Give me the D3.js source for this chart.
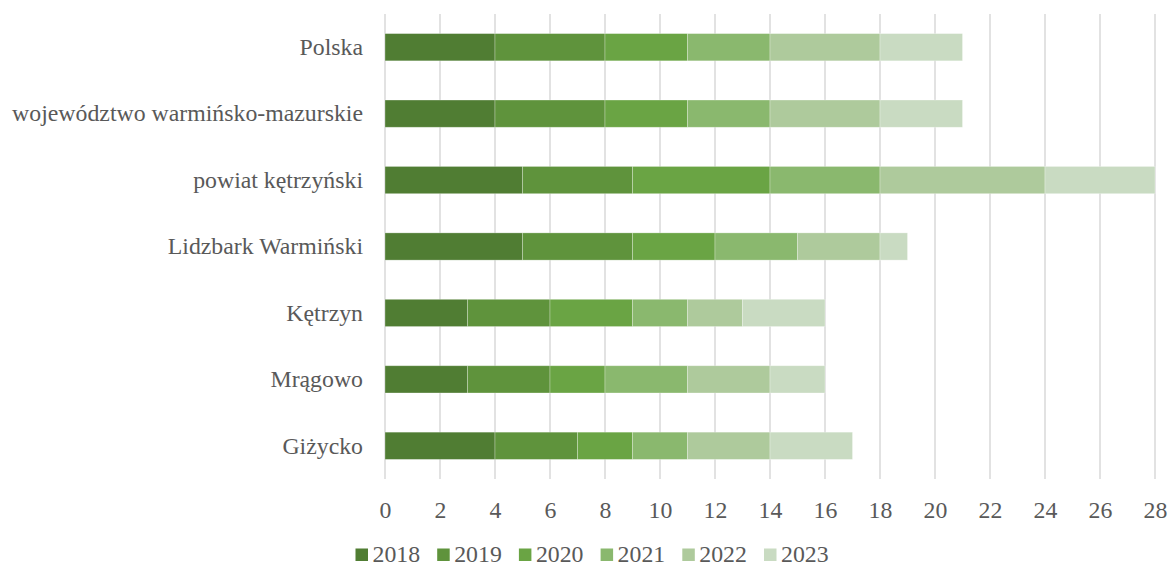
<!DOCTYPE html>
<html>
<head>
<meta charset="utf-8">
<script src="https://cdn.jsdelivr.net/npm/d3@7"></script>
<style>
  body { margin: 0; background: #fff; }
</style>
</head>
<body>
<div id="chart"></div>
<script>
// Categories top to bottom
const categories = ["Polska", "województwo warmińsko-mazurskie", "powiat kętrzyński",
    "Lidzbark Warmiński", "Kętrzyn ", "Mrągowo", "Giżycko"];
const years = ["2018", "2019", "2020", "2021", "2022", "2023"];

// values per year, in category order
const v2018 = [4, 4, 5, 5, 3, 3, 4];
const v2019 = [4, 4, 4, 4, 3, 3, 3];
const v2020 = [3, 3, 5, 3, 3, 2, 2];
const v2021 = [3, 3, 4, 3, 2, 3, 2];
const v2022 = [4, 4, 6, 3, 2, 3, 3];
const v2023 = [3, 3, 4, 1, 3, 2, 3];

const xTicks = [0, 2, 4, 6, 8, 10, 12, 14, 16, 18, 20, 22, 24, 26, 28];
const colors = ["#507d33", "#5f933c", "#6aa444", "#8ab86e", "#aeca9c", "#c9dbc2"];

const series = [v2018, v2019, v2020, v2021, v2022, v2023];

const FONT = '"Liberation Serif"';
const FS = "23.8px";

const W = 1170, H = 567;
const margin = {top: 14, right: 15, bottom: 88, left: 385};
const height = H - margin.top - margin.bottom;

const svg = d3.select("#chart").append("svg")
    .attr("width", W).attr("height", H);
const g = svg.append("g").attr("transform", `translate(${margin.left},${margin.top})`);

const x = d3.scaleLinear().domain([0, 28]).range([0, 770]);
const y = d3.scaleBand().domain(categories).range([0, height])
    .paddingInner(0.59).paddingOuter(0.295);

// vertical gridlines
g.selectAll(".grid").data(xTicks).enter().append("line")
    .attr("x1", d => x(d)).attr("x2", d => x(d))
    .attr("y1", 0).attr("y2", height)
    .attr("stroke", "#d9d9d9").attr("stroke-width", 1.5);

// stack the data
const rows = categories.map((c, i) => {
    const r = {cat: c};
    years.forEach((yr, k) => r[yr] = series[k][i]);
    return r;
});
const stacked = d3.stack().keys(years)(rows);

g.selectAll(".layer").data(stacked).enter().append("g")
    .attr("fill", (d, i) => colors[i])
    .selectAll("rect").data(d => d).enter().append("rect")
    .attr("x", d => x(d[0]))
    .attr("width", d => x(d[1]) - x(d[0]))
    .attr("y", d => y(d.data.cat))
    .attr("height", y.bandwidth())
    .attr("stroke", "#ffffff").attr("stroke-opacity", 0.35).attr("stroke-width", 0.8);

// category labels
g.selectAll(".cat").data(categories).enter().append("text")
    .attr("x", -22)
    .attr("y", d => y(d) + y.bandwidth() / 2)
    .attr("dy", "0.33em")
    .attr("text-anchor", "end")
    .attr("fill", "#595959")
    .style("font-family", FONT)
    .style("font-size", FS)
    .text(d => d);

// x axis tick labels
const xAxis = g.append("g")
    .attr("transform", `translate(0,${height})`)
    .call(d3.axisBottom(x).tickValues(xTicks).tickSize(0).tickPadding(22));
xAxis.select(".domain").remove();
xAxis.selectAll("text")
    .attr("fill", "#595959")
    .style("font-family", FONT)
    .style("font-size", FS);

// legend (kept just inside the bottom edge)
const legend = svg.append("g").attr("transform", `translate(355.5, 548.5)`);
const item = legend.selectAll(".li").data(years).enter().append("g")
    .attr("transform", (d, i) => `translate(${i * 81.7},0)`);
item.append("rect")
    .attr("x", 0).attr("y", 0).attr("width", 12.5).attr("height", 12.5)
    .attr("fill", (d, i) => colors[i]);
item.append("text")
    .attr("x", 17).attr("y", 13.5)
    .attr("fill", "#595959")
    .style("font-family", FONT)
    .style("font-size", FS)
    .text(d => d);
</script>
</body>
</html>
